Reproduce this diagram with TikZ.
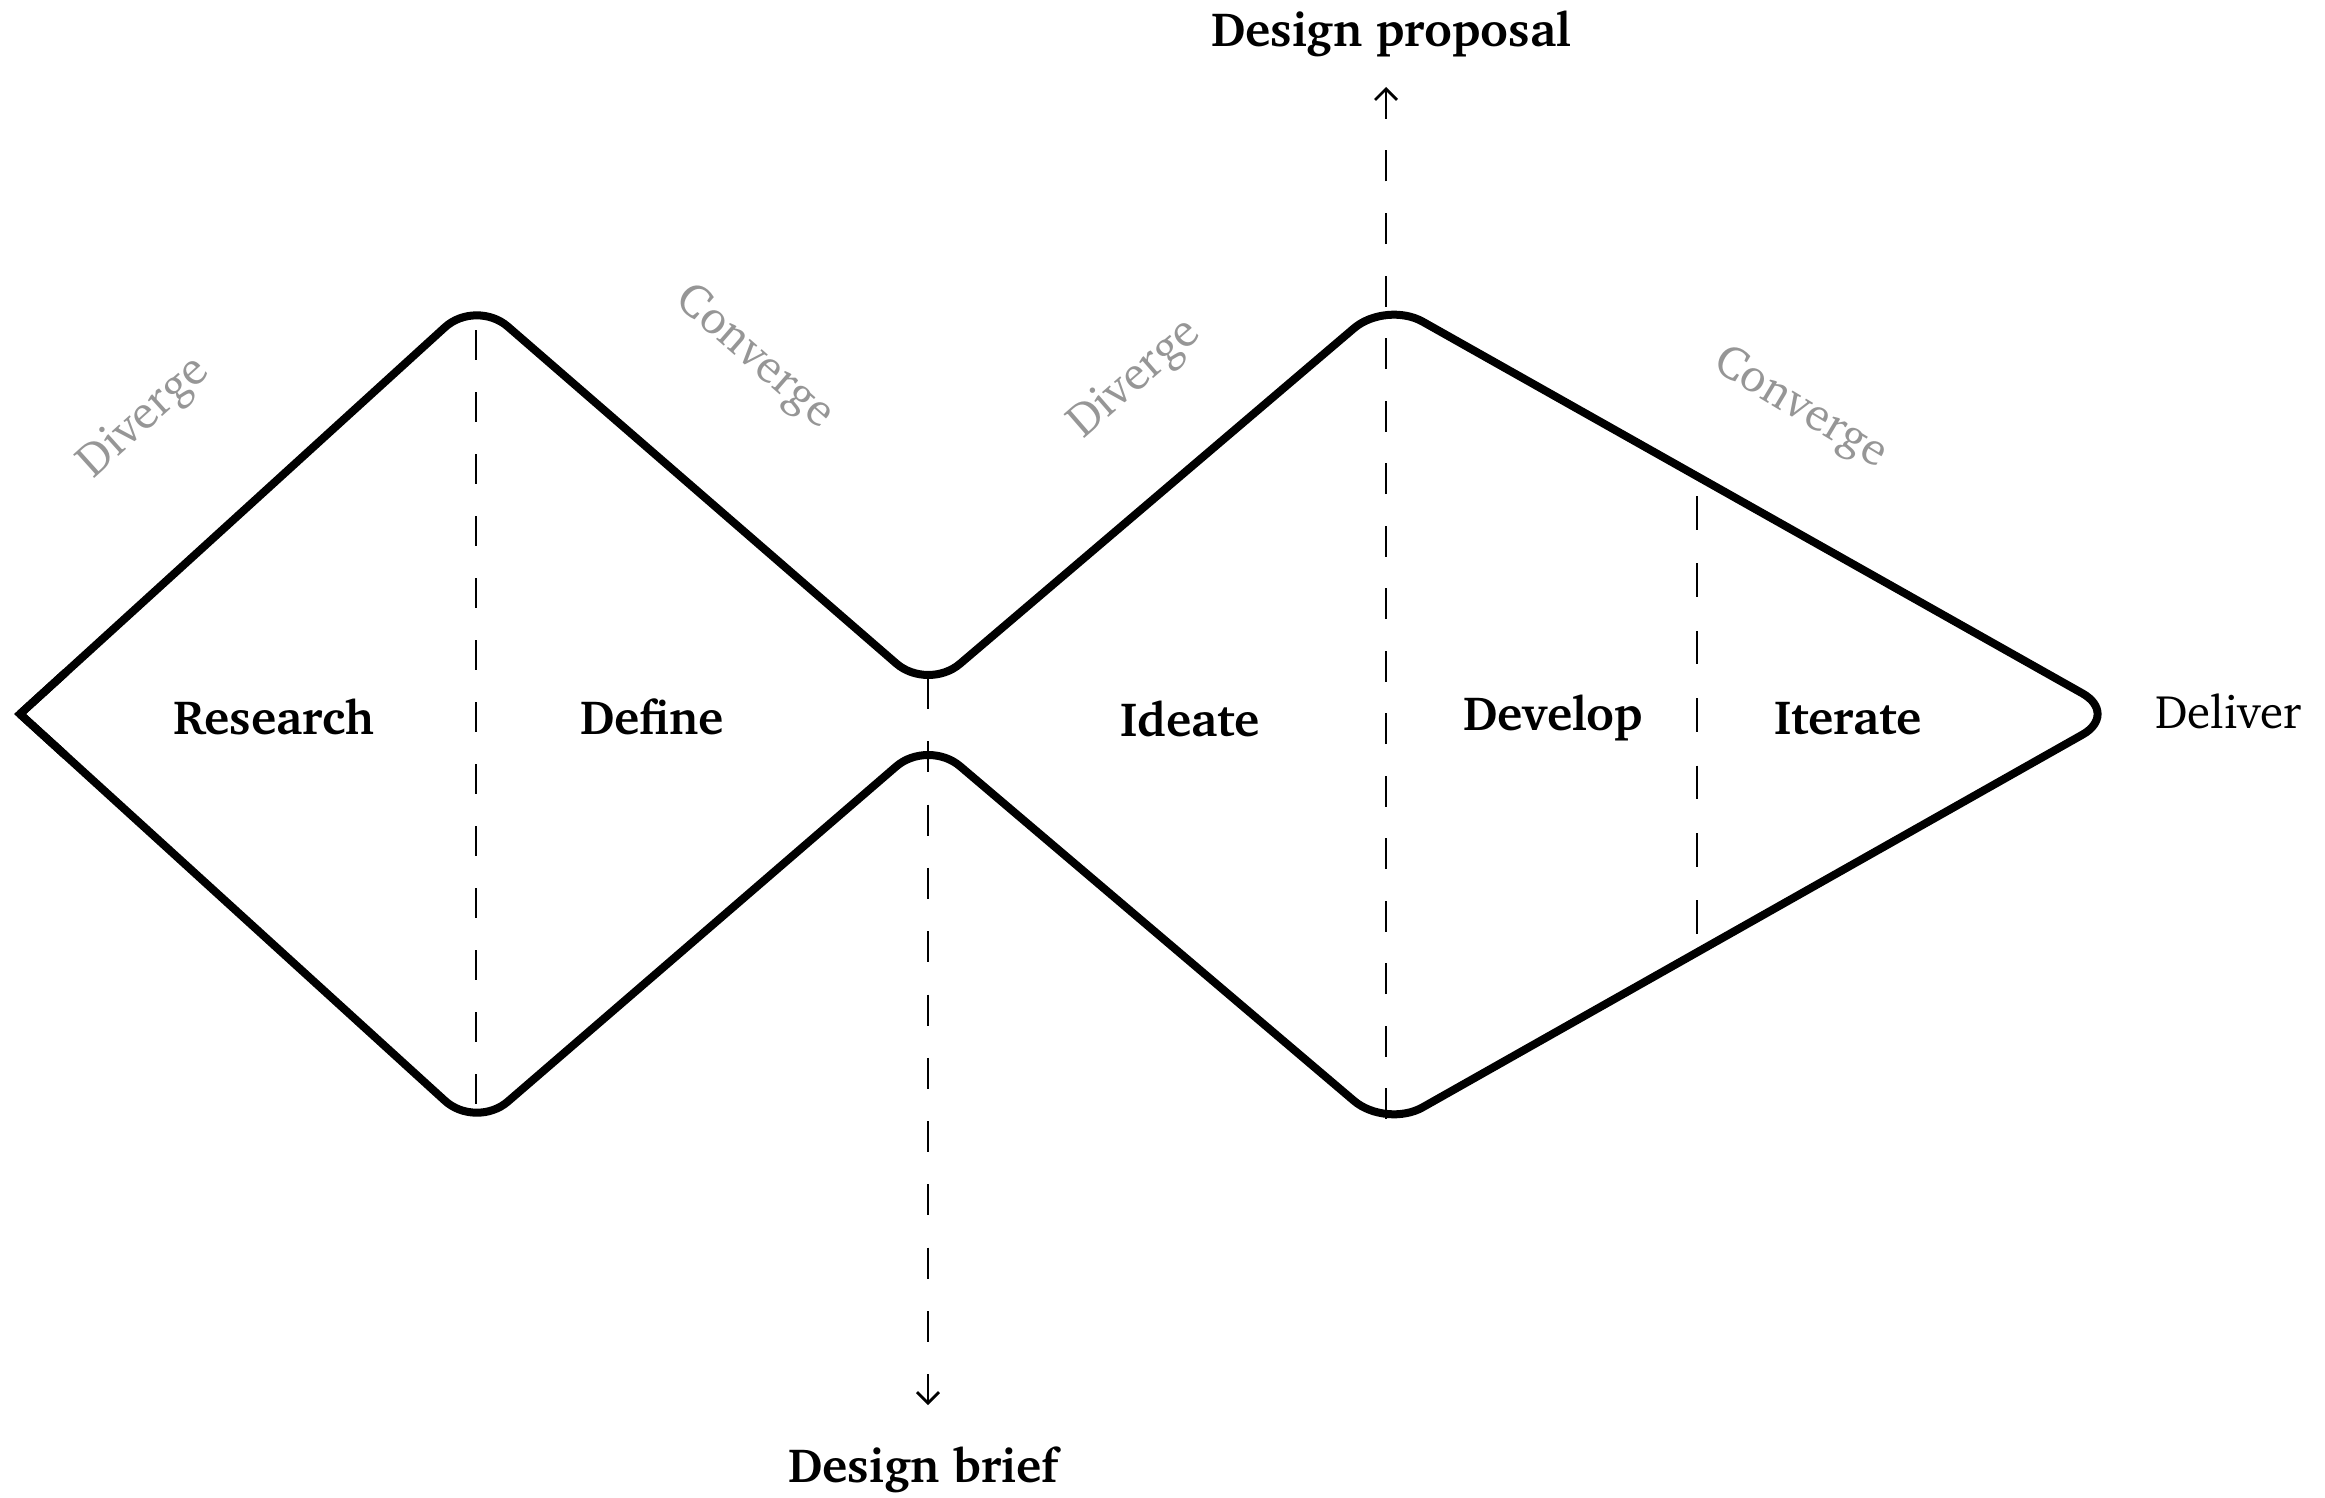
\documentclass[tikz,border=0pt]{standalone}
\usepackage[T1]{fontenc}
\usepackage{charter}
\usetikzlibrary{arrows.meta,calc}
\definecolor{lblgray}{RGB}{150,150,150}
\begin{document}
\begin{tikzpicture}[x=1pt,y=-1pt,
  outline/.style={line width=8pt, rounded corners=42pt, line join=round},
  divider/.style={line width=2.7pt},
  tip/.style={-{Straight Barb[length=11pt,width=22pt,line width=2.7pt]}},
  phase/.style={font=\fontsize{48}{58}\selectfont\bfseries, anchor=base, inner sep=0pt},
  endlbl/.style={font=\fontsize{47}{56}\selectfont, anchor=base west, inner sep=0pt},
  flow/.style={font=\fontsize{47}{56}\selectfont, text=lblgray, inner sep=0pt}]
\useasboundingbox (0,0) rectangle (2325,1498);

% outline vertices
\coordinate (A) at (20,714);
\coordinate (B) at (476,299);
\coordinate (C) at (928,691);
\coordinate (D) at (1386,301);
\coordinate (E) at (2119,714);
\coordinate (F) at (1386,1128);
\coordinate (G) at (928,739);
\coordinate (H) at (476,1129);

\draw[outline] (A) -- (B) -- (C) -- (D) -- (E) -- (F) -- (G) -- (H) -- (A);
\draw[line width=8pt, line join=miter] ($(A)!0.1!(H)$) -- (A) -- ($(A)!0.1!(B)$);

% dashed dividers
\coordinate (d1t) at (476,330);
\coordinate (d1b) at (476,1104);
\draw[divider, dash pattern=on 30pt off 32pt] (d1t) -- (d1b);

\coordinate (wt) at (928,678);
\coordinate (wb) at (928,1405);
\draw[divider, tip, dash pattern=on 31pt off 32.3pt] (wt) -- (wb);

\coordinate (pb) at (1386,1119);
\coordinate (pt) at (1386,87);
\draw[divider, tip, dash pattern=on 31pt off 31.5pt] (pb) -- (pt);

\coordinate (it) at (1697,496);
\coordinate (ib) at (1697,934);
\draw[divider, dash pattern=on 33.5pt off 33.9pt] (it) -- (ib);

% phase labels
\node[phase] (research) at (274,734) {Research};
\node[phase] (define) at (652,734) {Define};
\node[phase] (ideate) at (1190,736) {Ideate};
\node[phase] (develop) at (1553,730) {Develop};
\node[phase] (iterate) at (1848,734) {Iterate};
\node[endlbl] (deliver) at (2155,728) {Deliver};
\node[phase] (proposal) at (1391,47) {Design proposal};
\node[phase] (brief) at (923,1482) {Design brief};

% flow labels
\node[flow, rotate=42] (div1) at (144,418) {Diverge};
\node[flow, rotate=-41] (con1) at (754,358) {Converge};
\node[flow, rotate=41] (div2) at (1135,379) {Diverge};
\node[flow, rotate=-31] (con2) at (1800,409) {Converge};
\end{tikzpicture}
\end{document}
